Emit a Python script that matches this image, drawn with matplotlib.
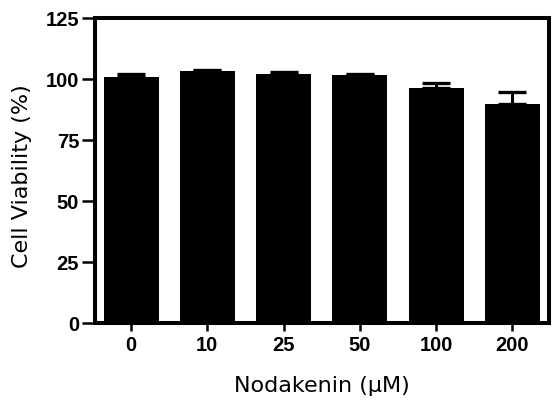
import matplotlib
matplotlib.use("Agg")
import matplotlib.pyplot as plt
import numpy as np

categories = ["0", "10", "25", "50", "100", "200"]
viability = [100.6, 103.3, 101.8, 101.5, 96.3, 89.5]
errors = [1.4, 0.3, 0.9, 0.5, 2.0, 5.1]
yticks = [0, 25, 50, 75, 100, 125]

plt.rcParams['font.family'] = ['Liberation Sans', 'DejaVu Sans']

W, H = 553, 402
fig = plt.figure(figsize=(W / 100, H / 100), dpi=100)
left, right, top, bottom = 94.5, 549, 18.5, 324
ax = fig.add_axes([left / W, 1 - bottom / H, (right - left) / W, (bottom - top) / H])

x = np.arange(len(categories))
ax.bar(x, viability, width=0.72, color='black', edgecolor='none', zorder=2)
ax.errorbar(x, viability, yerr=[np.zeros(len(errors)), errors], fmt='none',
            ecolor='black', elinewidth=2.2, capsize=10, capthick=2.4, zorder=3)

ax.set_xlim(-0.48, 5.48)
ax.set_ylim(0, 125)
ax.set_yticks(yticks)
ax.set_yticklabels([str(t) for t in yticks])
ax.set_xticks(x)
ax.set_xticklabels(categories)

for s in ax.spines.values():
    s.set_linewidth(2.9)
    s.set_color('black')

ax.tick_params(axis='y', direction='out', length=9.5, width=1.8, pad=1.5,
               labelsize=14.5)
ax.tick_params(axis='x', direction='out', length=5.5, width=1.8, pad=3.5,
               labelsize=14.5)
for lab in ax.get_xticklabels() + ax.get_yticklabels():
    lab.set_fontweight('bold')

label_font = ['DejaVu Sans']
ax.set_xlabel("Nodakenin (μM)", fontsize=16, va='center', family=label_font)
ax.xaxis.set_label_coords(0.5, (bottom - 386) / (bottom - top))
ax.set_ylabel("Cell Viability (%)", fontsize=16, va='center', family=label_font)
ax.yaxis.set_label_coords((22 - left) / (right - left), (bottom - 176.5) / (bottom - top))

fig.savefig("out.png", dpi=100)
